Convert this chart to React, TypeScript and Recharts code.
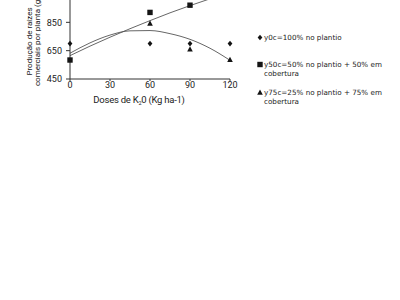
import { ComposedChart, Line, Scatter, XAxis, YAxis } from "recharts";

const doses = [0, 15, 30, 45, 60, 75, 90, 105, 120];
const y0c = [700, null, null, null, 700, null, 700, null, 700];
const y50c = [584, null, null, null, 920, null, 971, null, null];
const y75c = [null, null, null, null, 843, null, 660, null, 586];
const fit50 = [615, 682, 745, 805, 862, 917, 968, 1016, 1062];
const fit75 = [632, 705, 760, 790, 792, 770, 730, 667, 582];
const xTicks = [0, 30, 60, 90, 120];
const yTicks = [450, 650, 850];
const legendLabels = [
  ["y0c=100% no plantio"],
  ["y50c=50% no plantio + 50% em", "cobertura"],
  ["y75c=25% no plantio + 75% em", "cobertura"],
];

const rows = doses.map((x, i) => ({
  x, y0c: y0c[i], y50c: y50c[i], y75c: y75c[i], fit50: fit50[i], fit75: fit75[i],
}));

const INK = "#141414";
const FONT = "Roboto, 'Liberation Sans', sans-serif";

const Diamond = ({ cx, cy }: any) => (
  <path d={`M${cx},${cy - 2.8}L${cx + 2.4},${cy}L${cx},${cy + 2.8}L${cx - 2.4},${cy}Z`} fill={INK} />
);
const Square = ({ cx, cy }: any) => (
  <rect x={cx - 2.7} y={cy - 2.7} width={5.4} height={5.4} fill={INK} />
);
const Triangle = ({ cx, cy }: any) => (
  <path d={`M${cx},${cy - 3}L${cx + 2.8},${cy + 2.3}L${cx - 2.8},${cy + 2.3}Z`} fill={INK} />
);
const shapes = [Diamond, Square, Triangle];

function YLabel({ viewBox }: any) {
  const cy = viewBox.y + viewBox.height / 2 + 5;
  const lines = ["Produção de raízes", "comerciais por planta (g)"];
  return (
    <g>
      {lines.map((t, i) => {
        const x = 32 + i * 8;
        return (
          <text key={i} x={x} y={cy} transform={`rotate(-90 ${x} ${cy})`} textAnchor="middle"
                fontSize={8} fontFamily={FONT} fill="#222">{t}</text>
        );
      })}
    </g>
  );
}

function XLabel({ viewBox }: any) {
  const cx = viewBox.x + viewBox.width / 2 - 11;
  return (
    <text x={cx} y={142.5} textAnchor="middle" fontSize={9.5} letterSpacing={-0.25}
          fontFamily={FONT} fill="#222">
      Doses de K<tspan fontSize={5.5} dy={2}>2</tspan><tspan dy={-2}>0 (Kg ha-1)</tspan>
    </text>
  );
}

function LegendBox() {
  return (
    <div style={{ position: "absolute", left: 257, top: 32.5, fontFamily: "'DejaVu Sans', sans-serif",
                  fontSize: 7.2, lineHeight: "9px", color: "#222" }}>
      {legendLabels.map((lines, i) => {
        const Shape = shapes[i];
        return (
          <div key={i} style={{ display: "flex", minHeight: 18, marginBottom: 9.5 }}>
            <svg width={7} height={9} style={{ flex: "none" }}><Shape cx={3} cy={4.5} /></svg>
            <div>{lines.map((l, j) => <div key={j} style={{ whiteSpace: "nowrap" }}>{l}</div>)}</div>
          </div>
        );
      })}
    </div>
  );
}

export default function App() {
  const tick = { fontSize: 9, fontFamily: FONT, fill: "#222" };
  return (
    <div style={{ position: "absolute", left: 0, top: 0, width: 400, height: 300, overflow: "hidden", background: "#fff" }}>
      <div style={{ position: "absolute", left: 0, top: -40 }}>
        <ComposedChart width={250} height={170} data={rows}
                       margin={{ top: 34, right: 20, bottom: 21, left: 30 }}>
          <XAxis dataKey="x" type="number" domain={[0, 120]} ticks={xTicks} stroke="#333"
                 tick={tick} tickSize={2} tickMargin={0.5} height={30} label={<XLabel />} />
          <YAxis type="number" domain={[450, 1050]} ticks={yTicks} allowDataOverflow stroke="#333"
                 tick={tick} tickSize={4} tickMargin={4} width={40} label={<YLabel />} />
          <Line dataKey="fit50" type="monotone" stroke="#555" strokeWidth={0.9} dot={false}
                isAnimationActive={false} />
          <Line dataKey="fit75" type="monotone" stroke="#555" strokeWidth={0.9} dot={false}
                isAnimationActive={false} />
          <Scatter dataKey="y0c" data={rows.filter(r => r.y0c != null)} shape={<Diamond />}
                   isAnimationActive={false} />
          <Scatter dataKey="y50c" data={rows.filter(r => r.y50c != null)} shape={<Square />}
                   isAnimationActive={false} />
          <Scatter dataKey="y75c" data={rows.filter(r => r.y75c != null)} shape={<Triangle />}
                   isAnimationActive={false} />
        </ComposedChart>
      </div>
      <LegendBox />
    </div>
  );
}
